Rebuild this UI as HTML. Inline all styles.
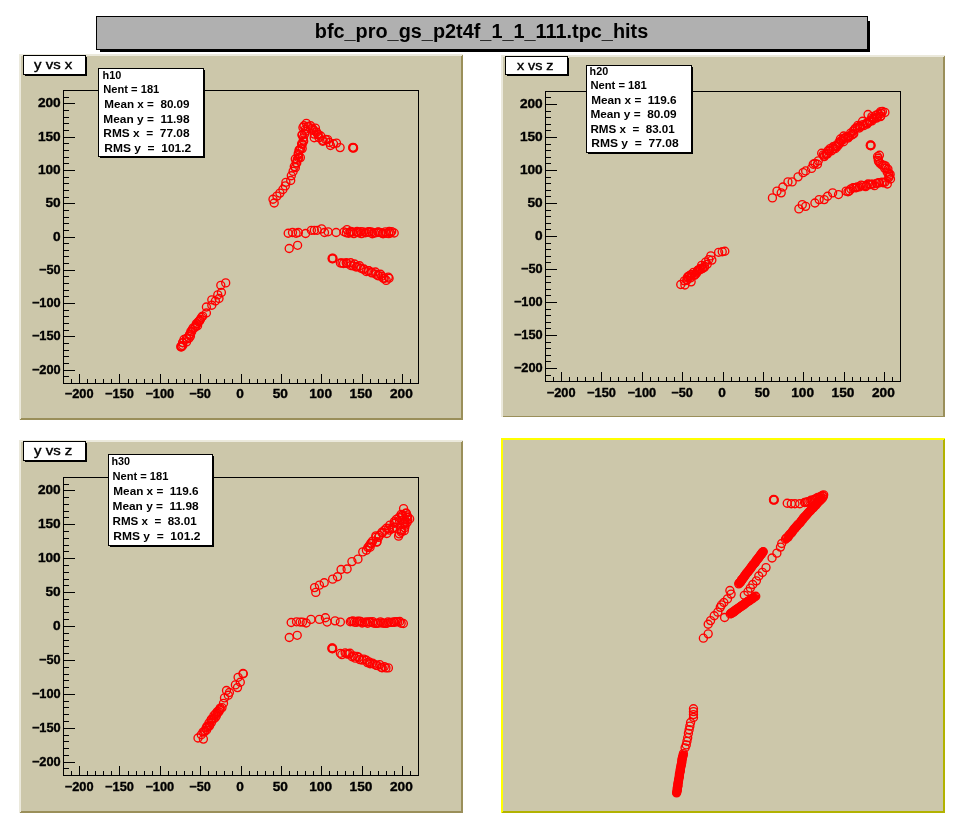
<!DOCTYPE html>
<html lang="en"><head><meta charset="utf-8"><title>bfc_pro_gs_p2t4f_1_1_111.tpc_hits</title>
<style>html,body{margin:0;padding:0;background:#fff;overflow:hidden}svg{display:block;font-family:"Liberation Sans", sans-serif;will-change:transform}.c{shape-rendering:crispEdges}text{fill:#000}</style></head><body>
<svg width="964" height="830" viewBox="0 0 964 830">
<rect width="964" height="830" fill="#fff"/>
<g class="c">
<rect x="100" y="21" width="770" height="31" fill="#000"/>
<rect x="96.5" y="16.5" width="771" height="33" fill="#b0b0b0" stroke="#000" stroke-width="1"/>
</g>
<text x="481.5" y="37.8" font-size="20" font-weight="bold" text-anchor="middle" textLength="333.5" lengthAdjust="spacingAndGlyphs">bfc_pro_gs_p2t4f_1_1_111.tpc_hits</text>
<g id="pad1">
<g class="c">
<rect x="19" y="54" width="444" height="366" fill="#ccc7aa"/>
<path d="M19 54H463L461 56H21V418L19 420Z" fill="#ebe9dc"/>
<path d="M463 420H19L21 418H461V56L463 54Z" fill="#9a8f5a"/>
<rect x="63.5" y="90.5" width="355" height="293" fill="none" stroke="#000" stroke-width="1"/>
<path d="M71.5 383v-4M64 376.5h5M79.5 383v-9M64 370.5h11M87.5 383v-4M64 363.5h5M95.5 383v-4M64 356.5h5M103.5 383v-4M64 350.5h5M111.5 383v-4M64 343.5h5M119.5 383v-9M64 336.5h11M128.5 383v-4M64 330.5h5M136.5 383v-4M64 323.5h5M144.5 383v-4M64 316.5h5M152.5 383v-4M64 310.5h5M160.5 383v-9M64 303.5h11M168.5 383v-4M64 296.5h5M176.5 383v-4M64 290.5h5M184.5 383v-4M64 283.5h5M192.5 383v-4M64 276.5h5M200.5 383v-9M64 270.5h11M208.5 383v-4M64 263.5h5M216.5 383v-4M64 256.5h5M224.5 383v-4M64 250.5h5M232.5 383v-4M64 243.5h5M241.5 383v-9M64 237.5h11M249.5 383v-4M64 230.5h5M257.5 383v-4M64 223.5h5M265.5 383v-4M64 217.5h5M273.5 383v-4M64 210.5h5M281.5 383v-9M64 203.5h11M289.5 383v-4M64 197.5h5M297.5 383v-4M64 190.5h5M305.5 383v-4M64 183.5h5M313.5 383v-4M64 177.5h5M321.5 383v-9M64 170.5h11M329.5 383v-4M64 163.5h5M337.5 383v-4M64 157.5h5M345.5 383v-4M64 150.5h5M353.5 383v-4M64 143.5h5M362.5 383v-9M64 137.5h11M370.5 383v-4M64 130.5h5M378.5 383v-4M64 123.5h5M386.5 383v-4M64 117.5h5M394.5 383v-4M64 110.5h5M402.5 383v-9M64 103.5h11M410.5 383v-4M64 97.5h5" stroke="#000" stroke-width="1" fill="none"/>
<text x="79.14" y="398" font-size="12.5" font-weight="bold" text-anchor="middle" textLength="28.8" lengthAdjust="spacingAndGlyphs" stroke="#000" stroke-width="0.35">−200</text>
<text x="60.7" y="374.1" font-size="12.5" font-weight="bold" text-anchor="end" textLength="28.8" lengthAdjust="spacingAndGlyphs" stroke="#000" stroke-width="0.35">−200</text>
<text x="119.48" y="398" font-size="12.5" font-weight="bold" text-anchor="middle" textLength="28.8" lengthAdjust="spacingAndGlyphs" stroke="#000" stroke-width="0.35">−150</text>
<text x="60.7" y="340.1" font-size="12.5" font-weight="bold" text-anchor="end" textLength="28.8" lengthAdjust="spacingAndGlyphs" stroke="#000" stroke-width="0.35">−150</text>
<text x="159.82" y="398" font-size="12.5" font-weight="bold" text-anchor="middle" textLength="28.8" lengthAdjust="spacingAndGlyphs" stroke="#000" stroke-width="0.35">−100</text>
<text x="60.7" y="307.1" font-size="12.5" font-weight="bold" text-anchor="end" textLength="28.8" lengthAdjust="spacingAndGlyphs" stroke="#000" stroke-width="0.35">−100</text>
<text x="200.16" y="398" font-size="12.5" font-weight="bold" text-anchor="middle" textLength="21.6" lengthAdjust="spacingAndGlyphs" stroke="#000" stroke-width="0.35">−50</text>
<text x="60.7" y="274.1" font-size="12.5" font-weight="bold" text-anchor="end" textLength="21.6" lengthAdjust="spacingAndGlyphs" stroke="#000" stroke-width="0.35">−50</text>
<text x="240" y="398" font-size="12.5" font-weight="bold" text-anchor="middle" textLength="7.6" lengthAdjust="spacingAndGlyphs" stroke="#000" stroke-width="0.35">0</text>
<text x="60.7" y="241.1" font-size="12.5" font-weight="bold" text-anchor="end" textLength="7.6" lengthAdjust="spacingAndGlyphs" stroke="#000" stroke-width="0.35">0</text>
<text x="280.34" y="398" font-size="12.5" font-weight="bold" text-anchor="middle" textLength="15.2" lengthAdjust="spacingAndGlyphs" stroke="#000" stroke-width="0.35">50</text>
<text x="60.7" y="207.1" font-size="12.5" font-weight="bold" text-anchor="end" textLength="15.2" lengthAdjust="spacingAndGlyphs" stroke="#000" stroke-width="0.35">50</text>
<text x="320.68" y="398" font-size="12.5" font-weight="bold" text-anchor="middle" textLength="22.8" lengthAdjust="spacingAndGlyphs" stroke="#000" stroke-width="0.35">100</text>
<text x="60.7" y="174.1" font-size="12.5" font-weight="bold" text-anchor="end" textLength="22.8" lengthAdjust="spacingAndGlyphs" stroke="#000" stroke-width="0.35">100</text>
<text x="361.02" y="398" font-size="12.5" font-weight="bold" text-anchor="middle" textLength="22.8" lengthAdjust="spacingAndGlyphs" stroke="#000" stroke-width="0.35">150</text>
<text x="60.7" y="141.1" font-size="12.5" font-weight="bold" text-anchor="end" textLength="22.8" lengthAdjust="spacingAndGlyphs" stroke="#000" stroke-width="0.35">150</text>
<text x="401.36" y="398" font-size="12.5" font-weight="bold" text-anchor="middle" textLength="22.8" lengthAdjust="spacingAndGlyphs" stroke="#000" stroke-width="0.35">200</text>
<text x="60.7" y="107.1" font-size="12.5" font-weight="bold" text-anchor="end" textLength="22.8" lengthAdjust="spacingAndGlyphs" stroke="#000" stroke-width="0.35">200</text>
</g>
<g fill="none" stroke="#f00" stroke-width="1.35" stroke-linecap="round"><circle cx="274.2" cy="203" r="4"/><circle cx="273" cy="199.2" r="4"/><circle cx="276.9" cy="196.1" r="4"/><circle cx="279.9" cy="193.1" r="4"/><circle cx="282.9" cy="189.5" r="4"/><circle cx="285.3" cy="185.9" r="4"/><circle cx="285.9" cy="182.3" r="4"/><circle cx="290.7" cy="180.5" r="4"/><circle cx="291.3" cy="175.7" r="4"/><circle cx="293.1" cy="171.4" r="4"/><circle cx="294.3" cy="166.6" r="4"/><circle cx="296.1" cy="163" r="4"/><circle cx="297.3" cy="159.4" r="4"/><circle cx="300.4" cy="157.6" r="4"/><circle cx="298.6" cy="154.6" r="4"/><circle cx="299.2" cy="149.8" r="4"/><circle cx="302.2" cy="148.6" r="4"/><circle cx="301.6" cy="143.7" r="4"/><circle cx="303.4" cy="140.1" r="4"/><circle cx="302.2" cy="135.3" r="4"/><circle cx="304.6" cy="134.1" r="4"/><circle cx="305.2" cy="129.3" r="4"/><circle cx="304" cy="125.7" r="4"/><circle cx="306.4" cy="123.3" r="4"/><circle cx="308.2" cy="126.9" r="4"/><circle cx="310.6" cy="125.7" r="4"/><circle cx="313" cy="129.3" r="4"/><circle cx="315.4" cy="128.1" r="4"/><circle cx="314.2" cy="134.1" r="4"/><circle cx="317.8" cy="134.1" r="4"/><circle cx="314.2" cy="137.7" r="4"/><circle cx="319" cy="137.7" r="4"/><circle cx="322.7" cy="141.3" r="4"/><circle cx="325.7" cy="139.5" r="4"/><circle cx="329.3" cy="142.5" r="4"/><circle cx="330.5" cy="145.5" r="4"/><circle cx="333.5" cy="143.7" r="4"/><circle cx="336.5" cy="143.1" r="4"/><circle cx="340.1" cy="147.6" r="4"/><circle cx="295.36" cy="167.66" r="4"/><circle cx="296.77" cy="162.99" r="4"/><circle cx="295.29" cy="158.96" r="4"/><circle cx="298.64" cy="157.68" r="4"/><circle cx="298.2" cy="153.59" r="4"/><circle cx="299.19" cy="150.64" r="4"/><circle cx="300.63" cy="148.74" r="4"/><circle cx="302.29" cy="144.37" r="4"/><circle cx="303.66" cy="141.3" r="4"/><circle cx="303.27" cy="137.84" r="4"/><circle cx="302.01" cy="134.7" r="4"/><circle cx="305.66" cy="131.3" r="4"/><circle cx="302.93" cy="127.44" r="4"/><circle cx="307.73" cy="126.43" r="4"/><circle cx="312" cy="128.12" r="4"/><circle cx="313.74" cy="130.49" r="4"/><circle cx="316.64" cy="132.11" r="4"/><circle cx="318.14" cy="134.89" r="4"/><circle cx="320.74" cy="136.04" r="4"/><circle cx="323.14" cy="140.55" r="4"/><circle cx="327.63" cy="139.67" r="4"/><circle cx="353" cy="147.6" r="4" stroke-width="1.9"/><circle cx="353.3" cy="147.9" r="4" stroke-width="1.9"/><circle cx="288.2" cy="233.2" r="4"/><circle cx="292.5" cy="232.5" r="4"/><circle cx="296.1" cy="233.2" r="4"/><circle cx="298.3" cy="232.5" r="4"/><circle cx="305.6" cy="233.5" r="4"/><circle cx="311.4" cy="230.3" r="4"/><circle cx="314.3" cy="230.3" r="4"/><circle cx="317.2" cy="230.3" r="4"/><circle cx="321.6" cy="228.9" r="4"/><circle cx="324.5" cy="232.5" r="4"/><circle cx="328.1" cy="231.8" r="4"/><circle cx="336.1" cy="232.5" r="4"/><circle cx="344.1" cy="231.8" r="4"/><circle cx="347" cy="229.6" r="4"/><circle cx="289.2" cy="248.5" r="4"/><circle cx="297.6" cy="245.3" r="4"/><circle cx="390.5" cy="233" r="4"/><circle cx="394.2" cy="233" r="4"/><circle cx="346.34" cy="232.71" r="4"/><circle cx="348.68" cy="233.27" r="4"/><circle cx="350.46" cy="232.36" r="4"/><circle cx="350.8" cy="231.54" r="4"/><circle cx="352.5" cy="232.03" r="4"/><circle cx="353.86" cy="233.61" r="4"/><circle cx="356.45" cy="232.21" r="4"/><circle cx="357.02" cy="231.44" r="4"/><circle cx="358.83" cy="232.78" r="4"/><circle cx="360.77" cy="231.55" r="4"/><circle cx="361.51" cy="233.68" r="4"/><circle cx="363.12" cy="231.81" r="4"/><circle cx="365.35" cy="232.7" r="4"/><circle cx="367.11" cy="232.14" r="4"/><circle cx="368.74" cy="231.7" r="4"/><circle cx="369.25" cy="232.03" r="4"/><circle cx="371.36" cy="231.95" r="4"/><circle cx="372.32" cy="233.75" r="4"/><circle cx="374.4" cy="233" r="4"/><circle cx="376.26" cy="232.63" r="4"/><circle cx="377.94" cy="232.04" r="4"/><circle cx="378.82" cy="232.24" r="4"/><circle cx="380.55" cy="232.68" r="4"/><circle cx="382.44" cy="233.2" r="4"/><circle cx="383.08" cy="233.72" r="4"/><circle cx="385.44" cy="231.82" r="4"/><circle cx="386.31" cy="233.37" r="4"/><circle cx="388.65" cy="233.62" r="4"/><circle cx="389.19" cy="231.48" r="4"/><circle cx="391.7" cy="231.55" r="4"/><circle cx="332.4" cy="258.6" r="4" stroke-width="1.9"/><circle cx="332.7" cy="258.4" r="4" stroke-width="1.9"/><circle cx="340.4" cy="263" r="4"/><circle cx="389.1" cy="278.3" r="4"/><circle cx="386.2" cy="280.4" r="4"/><circle cx="341.98" cy="262.89" r="4"/><circle cx="343.54" cy="263.49" r="4"/><circle cx="346.24" cy="262.79" r="4"/><circle cx="347.09" cy="263.48" r="4"/><circle cx="350.65" cy="262.71" r="4"/><circle cx="350.82" cy="265.51" r="4"/><circle cx="353.13" cy="265.82" r="4"/><circle cx="354.52" cy="264.02" r="4"/><circle cx="356.13" cy="267.04" r="4"/><circle cx="357.24" cy="266.36" r="4"/><circle cx="359.57" cy="265.7" r="4"/><circle cx="360.85" cy="268.29" r="4"/><circle cx="363.26" cy="269.3" r="4"/><circle cx="363.97" cy="269" r="4"/><circle cx="366.25" cy="271.47" r="4"/><circle cx="368.34" cy="270.65" r="4"/><circle cx="368.7" cy="270.67" r="4"/><circle cx="371.55" cy="272.13" r="4"/><circle cx="371.78" cy="272.86" r="4"/><circle cx="375.44" cy="272.01" r="4"/><circle cx="375.75" cy="274.25" r="4"/><circle cx="377.77" cy="275.34" r="4"/><circle cx="378.64" cy="275.88" r="4"/><circle cx="380.53" cy="274.28" r="4"/><circle cx="381.87" cy="276.25" r="4"/><circle cx="383.21" cy="278.17" r="4"/><circle cx="384.27" cy="278.37" r="4"/><circle cx="388.3" cy="277.14" r="4"/><circle cx="225.7" cy="282.9" r="4"/><circle cx="220.8" cy="285.3" r="4"/><circle cx="221.4" cy="292.5" r="4"/><circle cx="217.8" cy="294.9" r="4"/><circle cx="219" cy="298.5" r="4"/><circle cx="215.4" cy="301" r="4"/><circle cx="211.8" cy="299.8" r="4"/><circle cx="211.8" cy="305.2" r="4"/><circle cx="206.4" cy="307" r="4"/><circle cx="206.4" cy="313" r="4"/><circle cx="202.67" cy="316.18" r="4"/><circle cx="201.6" cy="317.28" r="4"/><circle cx="200.35" cy="319.24" r="4"/><circle cx="199.88" cy="320.23" r="4"/><circle cx="199.56" cy="321.02" r="4"/><circle cx="198.49" cy="321.57" r="4"/><circle cx="197.14" cy="323.8" r="4"/><circle cx="196.29" cy="323.71" r="4"/><circle cx="197.57" cy="325.69" r="4"/><circle cx="195.72" cy="326.41" r="4"/><circle cx="194.89" cy="327.53" r="4"/><circle cx="193.22" cy="327.84" r="4"/><circle cx="192.34" cy="329.56" r="4"/><circle cx="190.82" cy="331.47" r="4"/><circle cx="191.7" cy="331.78" r="4"/><circle cx="190.06" cy="334.15" r="4"/><circle cx="189.48" cy="334.84" r="4"/><circle cx="190.47" cy="336.09" r="4"/><circle cx="189.03" cy="338.15" r="4"/><circle cx="187.19" cy="338.94" r="4"/><circle cx="186.44" cy="338.31" r="4"/><circle cx="184.01" cy="339.47" r="4"/><circle cx="186.52" cy="341.9" r="4"/><circle cx="182.63" cy="342.55" r="4"/><circle cx="182.81" cy="342.8" r="4"/><circle cx="182.8" cy="345.43" r="4"/><circle cx="181.1" cy="346.7" r="4" stroke-width="1.9"/><circle cx="181.4" cy="346.4" r="4" stroke-width="1.9"/></g>
<g class="c">
<rect x="100" y="70" width="105" height="88" fill="#000"/>
<rect x="98.5" y="68.5" width="105" height="88" fill="#fff" stroke="#000" stroke-width="1"/>
<text x="102.5" y="78.5" font-size="11" font-weight="bold" textLength="18.8" lengthAdjust="spacingAndGlyphs">h10</text>
<text x="103.3" y="92.8" font-size="11" font-weight="bold" textLength="56" lengthAdjust="spacingAndGlyphs">Nent = 181</text>
<text x="104.3" y="108" font-size="11" font-weight="bold" textLength="85.3" lengthAdjust="spacingAndGlyphs">Mean x =  80.09</text>
<text x="103.3" y="122.5" font-size="11" font-weight="bold" textLength="86.3" lengthAdjust="spacingAndGlyphs">Mean y =  11.98</text>
<text x="103.3" y="136.6" font-size="11" font-weight="bold" textLength="86.3" lengthAdjust="spacingAndGlyphs">RMS x  =  77.08</text>
<text x="104.3" y="151.5" font-size="11" font-weight="bold" textLength="87" lengthAdjust="spacingAndGlyphs">RMS y  =  101.2</text>
<rect x="25" y="57" width="62" height="19" fill="#000"/>
<rect x="23.5" y="55.5" width="62" height="19" fill="#fff" stroke="#000" stroke-width="1"/>
<text x="53.2" y="68.7" font-size="13.5" font-weight="normal" text-anchor="middle" textLength="38.2" lengthAdjust="spacingAndGlyphs" stroke="#000" stroke-width="0.4">y vs x</text>
</g>
</g>
<g id="pad2">
<g class="c">
<rect x="501" y="55" width="444" height="363" fill="#ccc7aa"/>
<path d="M501 55H945L943 57H503V416L501 418Z" fill="#ebe9dc"/>
<path d="M945 418H501L503 416H943V57L945 55Z" fill="#9a8f5a"/>
<rect x="501" y="417" width="444" height="1" fill="#fff"/>
<rect x="545.5" y="91.5" width="355" height="290" fill="none" stroke="#000" stroke-width="1"/>
<path d="M553.5 381v-4M546 375.5h5M561.5 381v-9M546 368.5h11M569.5 381v-4M546 361.5h5M577.5 381v-4M546 355.5h5M585.5 381v-4M546 348.5h5M593.5 381v-4M546 342.5h5M601.5 381v-9M546 335.5h11M610.5 381v-4M546 328.5h5M618.5 381v-4M546 322.5h5M626.5 381v-4M546 315.5h5M634.5 381v-4M546 309.5h5M642.5 381v-9M546 302.5h11M650.5 381v-4M546 295.5h5M658.5 381v-4M546 289.5h5M666.5 381v-4M546 282.5h5M674.5 381v-4M546 276.5h5M682.5 381v-9M546 269.5h11M690.5 381v-4M546 262.5h5M698.5 381v-4M546 256.5h5M706.5 381v-4M546 249.5h5M714.5 381v-4M546 243.5h5M723.5 381v-9M546 236.5h11M731.5 381v-4M546 229.5h5M739.5 381v-4M546 223.5h5M747.5 381v-4M546 216.5h5M755.5 381v-4M546 210.5h5M763.5 381v-9M546 203.5h11M771.5 381v-4M546 196.5h5M779.5 381v-4M546 190.5h5M787.5 381v-4M546 183.5h5M795.5 381v-4M546 177.5h5M803.5 381v-9M546 170.5h11M811.5 381v-4M546 163.5h5M819.5 381v-4M546 157.5h5M827.5 381v-4M546 150.5h5M835.5 381v-4M546 144.5h5M844.5 381v-9M546 137.5h11M852.5 381v-4M546 130.5h5M860.5 381v-4M546 124.5h5M868.5 381v-4M546 117.5h5M876.5 381v-4M546 111.5h5M884.5 381v-9M546 104.5h11M892.5 381v-4M546 97.5h5" stroke="#000" stroke-width="1" fill="none"/>
<text x="561.14" y="397" font-size="12.5" font-weight="bold" text-anchor="middle" textLength="28.8" lengthAdjust="spacingAndGlyphs" stroke="#000" stroke-width="0.35">−200</text>
<text x="542.7" y="372.1" font-size="12.5" font-weight="bold" text-anchor="end" textLength="28.8" lengthAdjust="spacingAndGlyphs" stroke="#000" stroke-width="0.35">−200</text>
<text x="601.48" y="397" font-size="12.5" font-weight="bold" text-anchor="middle" textLength="28.8" lengthAdjust="spacingAndGlyphs" stroke="#000" stroke-width="0.35">−150</text>
<text x="542.7" y="339.1" font-size="12.5" font-weight="bold" text-anchor="end" textLength="28.8" lengthAdjust="spacingAndGlyphs" stroke="#000" stroke-width="0.35">−150</text>
<text x="641.82" y="397" font-size="12.5" font-weight="bold" text-anchor="middle" textLength="28.8" lengthAdjust="spacingAndGlyphs" stroke="#000" stroke-width="0.35">−100</text>
<text x="542.7" y="306.1" font-size="12.5" font-weight="bold" text-anchor="end" textLength="28.8" lengthAdjust="spacingAndGlyphs" stroke="#000" stroke-width="0.35">−100</text>
<text x="682.16" y="397" font-size="12.5" font-weight="bold" text-anchor="middle" textLength="21.6" lengthAdjust="spacingAndGlyphs" stroke="#000" stroke-width="0.35">−50</text>
<text x="542.7" y="273.1" font-size="12.5" font-weight="bold" text-anchor="end" textLength="21.6" lengthAdjust="spacingAndGlyphs" stroke="#000" stroke-width="0.35">−50</text>
<text x="722" y="397" font-size="12.5" font-weight="bold" text-anchor="middle" textLength="7.6" lengthAdjust="spacingAndGlyphs" stroke="#000" stroke-width="0.35">0</text>
<text x="542.7" y="240.1" font-size="12.5" font-weight="bold" text-anchor="end" textLength="7.6" lengthAdjust="spacingAndGlyphs" stroke="#000" stroke-width="0.35">0</text>
<text x="762.34" y="397" font-size="12.5" font-weight="bold" text-anchor="middle" textLength="15.2" lengthAdjust="spacingAndGlyphs" stroke="#000" stroke-width="0.35">50</text>
<text x="542.7" y="207.1" font-size="12.5" font-weight="bold" text-anchor="end" textLength="15.2" lengthAdjust="spacingAndGlyphs" stroke="#000" stroke-width="0.35">50</text>
<text x="802.68" y="397" font-size="12.5" font-weight="bold" text-anchor="middle" textLength="22.8" lengthAdjust="spacingAndGlyphs" stroke="#000" stroke-width="0.35">100</text>
<text x="542.7" y="174.1" font-size="12.5" font-weight="bold" text-anchor="end" textLength="22.8" lengthAdjust="spacingAndGlyphs" stroke="#000" stroke-width="0.35">100</text>
<text x="843.02" y="397" font-size="12.5" font-weight="bold" text-anchor="middle" textLength="22.8" lengthAdjust="spacingAndGlyphs" stroke="#000" stroke-width="0.35">150</text>
<text x="542.7" y="141.1" font-size="12.5" font-weight="bold" text-anchor="end" textLength="22.8" lengthAdjust="spacingAndGlyphs" stroke="#000" stroke-width="0.35">150</text>
<text x="883.36" y="397" font-size="12.5" font-weight="bold" text-anchor="middle" textLength="22.8" lengthAdjust="spacingAndGlyphs" stroke="#000" stroke-width="0.35">200</text>
<text x="542.7" y="108.1" font-size="12.5" font-weight="bold" text-anchor="end" textLength="22.8" lengthAdjust="spacingAndGlyphs" stroke="#000" stroke-width="0.35">200</text>
</g>
<g fill="none" stroke="#f00" stroke-width="1.35" stroke-linecap="round"><circle cx="772.43" cy="197.93" r="4"/><circle cx="776.98" cy="191.18" r="4"/><circle cx="781.2" cy="192.87" r="4"/><circle cx="782.88" cy="186.96" r="4"/><circle cx="787.94" cy="181.91" r="4"/><circle cx="792.16" cy="181.91" r="4"/><circle cx="798.06" cy="176.85" r="4"/><circle cx="803.12" cy="172.63" r="4"/><circle cx="805.65" cy="170.94" r="4"/><circle cx="811.55" cy="168.41" r="4"/><circle cx="814.92" cy="163.36" r="4"/><circle cx="818.3" cy="160.83" r="4"/><circle cx="821.67" cy="153.24" r="4"/><circle cx="824.2" cy="156.61" r="4"/><circle cx="817.45" cy="164.2" r="4"/><circle cx="813.24" cy="164.2" r="4"/><circle cx="823.87" cy="156.31" r="4"/><circle cx="823.25" cy="154.87" r="4"/><circle cx="825.95" cy="154.26" r="4"/><circle cx="827.46" cy="153.85" r="4"/><circle cx="826.52" cy="153.44" r="4"/><circle cx="828.13" cy="150.64" r="4"/><circle cx="829.26" cy="150.96" r="4"/><circle cx="831.36" cy="150.82" r="4"/><circle cx="830.03" cy="148.57" r="4"/><circle cx="833.43" cy="148.85" r="4"/><circle cx="833.05" cy="146.72" r="4"/><circle cx="835.12" cy="148.69" r="4"/><circle cx="835.91" cy="146.2" r="4"/><circle cx="835.15" cy="145.95" r="4"/><circle cx="836.87" cy="146.82" r="4"/><circle cx="838.54" cy="144.84" r="4"/><circle cx="838.93" cy="142.33" r="4"/><circle cx="839.07" cy="143.65" r="4"/><circle cx="840.86" cy="140.82" r="4"/><circle cx="840.4" cy="139.02" r="4"/><circle cx="842.81" cy="139.99" r="4"/><circle cx="843.59" cy="141.78" r="4"/><circle cx="843.63" cy="138.47" r="4"/><circle cx="845.42" cy="137.34" r="4"/><circle cx="843.67" cy="136.01" r="4"/><circle cx="848.05" cy="136.9" r="4"/><circle cx="848.15" cy="138.05" r="4"/><circle cx="848.58" cy="136.97" r="4"/><circle cx="849.87" cy="135.76" r="4"/><circle cx="852.01" cy="134.92" r="4"/><circle cx="850.66" cy="133.15" r="4"/><circle cx="853.36" cy="133.72" r="4"/><circle cx="853.75" cy="133.76" r="4"/><circle cx="853.17" cy="130.97" r="4"/><circle cx="855.48" cy="128.23" r="4"/><circle cx="854.81" cy="129.13" r="4"/><circle cx="857.21" cy="127.55" r="4"/><circle cx="859.43" cy="128.02" r="4"/><circle cx="857.94" cy="125.36" r="4"/><circle cx="859.65" cy="125.98" r="4"/><circle cx="860.5" cy="126.44" r="4"/><circle cx="863.71" cy="125.68" r="4"/><circle cx="862.78" cy="124.64" r="4"/><circle cx="862.59" cy="121.28" r="4"/><circle cx="866.98" cy="124.1" r="4"/><circle cx="867.78" cy="123.04" r="4"/><circle cx="867.06" cy="122.64" r="4"/><circle cx="869.2" cy="121.81" r="4"/><circle cx="870.2" cy="120.78" r="4"/><circle cx="871.94" cy="120.84" r="4"/><circle cx="871.93" cy="118.35" r="4"/><circle cx="871.85" cy="116.61" r="4"/><circle cx="873.31" cy="118.97" r="4"/><circle cx="874.28" cy="117.88" r="4"/><circle cx="876.42" cy="118.07" r="4"/><circle cx="877.68" cy="116.79" r="4"/><circle cx="876.08" cy="115.17" r="4"/><circle cx="880.36" cy="116.66" r="4"/><circle cx="878.42" cy="113.97" r="4"/><circle cx="880.86" cy="115.96" r="4"/><circle cx="881.14" cy="113.47" r="4"/><circle cx="882.42" cy="111.5" r="4"/><circle cx="884.91" cy="112.43" r="4"/><circle cx="880.69" cy="111.59" r="4"/><circle cx="868.04" cy="114.45" r="4"/><circle cx="798.9" cy="208.89" r="4"/><circle cx="802.28" cy="204.67" r="4"/><circle cx="805.65" cy="206.36" r="4"/><circle cx="814.92" cy="202.98" r="4"/><circle cx="819.14" cy="199.61" r="4"/><circle cx="824.2" cy="199.61" r="4"/><circle cx="827.57" cy="196.24" r="4"/><circle cx="832.63" cy="192.87" r="4"/><circle cx="838.53" cy="194.55" r="4"/><circle cx="846.12" cy="191.18" r="4"/><circle cx="847.98" cy="191.74" r="4"/><circle cx="849.33" cy="190.95" r="4"/><circle cx="850.89" cy="188.88" r="4"/><circle cx="853.09" cy="187.76" r="4"/><circle cx="854.73" cy="187.67" r="4"/><circle cx="856.15" cy="187.72" r="4"/><circle cx="857.2" cy="186.93" r="4"/><circle cx="859.44" cy="186.91" r="4"/><circle cx="861.2" cy="185.1" r="4"/><circle cx="863.13" cy="185.69" r="4"/><circle cx="865.59" cy="186.66" r="4"/><circle cx="866.16" cy="185.54" r="4"/><circle cx="868.02" cy="183.98" r="4"/><circle cx="869.77" cy="184.57" r="4"/><circle cx="871.05" cy="184.17" r="4"/><circle cx="872.74" cy="184.1" r="4"/><circle cx="874.5" cy="185.66" r="4"/><circle cx="876.51" cy="183.35" r="4"/><circle cx="878.63" cy="182.65" r="4"/><circle cx="879.5" cy="182.73" r="4"/><circle cx="881.94" cy="182.25" r="4"/><circle cx="883.11" cy="182.78" r="4"/><circle cx="884.86" cy="182.13" r="4"/><circle cx="887.3" cy="183.97" r="4"/><circle cx="890.49" cy="178.97" r="4"/><circle cx="888.74" cy="177.6" r="4"/><circle cx="889.23" cy="176.02" r="4"/><circle cx="890.15" cy="174.43" r="4"/><circle cx="888.78" cy="173.31" r="4"/><circle cx="887.2" cy="172.08" r="4"/><circle cx="887.92" cy="169.12" r="4"/><circle cx="886.21" cy="168.08" r="4"/><circle cx="884.61" cy="168.09" r="4"/><circle cx="885.43" cy="165.81" r="4"/><circle cx="883.47" cy="165.08" r="4"/><circle cx="881.86" cy="164.85" r="4"/><circle cx="880.07" cy="163.35" r="4"/><circle cx="878.77" cy="161.71" r="4"/><circle cx="878.28" cy="160.35" r="4"/><circle cx="878.32" cy="158.29" r="4"/><circle cx="877.57" cy="156.65" r="4"/><circle cx="879.41" cy="155.28" r="4"/><circle cx="870.57" cy="145.31" r="4" stroke-width="1.9"/><circle cx="870.74" cy="145.48" r="4" stroke-width="1.9"/><circle cx="724.83" cy="251.27" r="4"/><circle cx="722.24" cy="251.78" r="4"/><circle cx="718.61" cy="252.3" r="4"/><circle cx="710.83" cy="255.93" r="4"/><circle cx="711.87" cy="260.08" r="4"/><circle cx="705.64" cy="262.16" r="4"/><circle cx="684.9" cy="284.98" r="4"/><circle cx="680.75" cy="284.46" r="4"/><circle cx="691.12" cy="281.87" r="4"/><circle cx="684.38" cy="280.83" r="4"/><circle cx="687.02" cy="280.31" r="4"/><circle cx="686.94" cy="279.49" r="4"/><circle cx="687.67" cy="277.14" r="4"/><circle cx="687.91" cy="276.78" r="4"/><circle cx="688.98" cy="275.97" r="4"/><circle cx="690.55" cy="277.85" r="4"/><circle cx="689.5" cy="275.84" r="4"/><circle cx="691.04" cy="276.18" r="4"/><circle cx="691.33" cy="274.38" r="4"/><circle cx="694.25" cy="275.43" r="4"/><circle cx="695.02" cy="274.56" r="4"/><circle cx="693.51" cy="272.39" r="4"/><circle cx="695.25" cy="274.39" r="4"/><circle cx="696.69" cy="272.86" r="4"/><circle cx="697.05" cy="271.91" r="4"/><circle cx="697.5" cy="270.76" r="4"/><circle cx="698.55" cy="270.39" r="4"/><circle cx="698.3" cy="269.83" r="4"/><circle cx="698.96" cy="269.96" r="4"/><circle cx="699.87" cy="269.62" r="4"/><circle cx="700.28" cy="268.54" r="4"/><circle cx="702.16" cy="268.75" r="4"/><circle cx="702.8" cy="267.91" r="4"/><circle cx="704.2" cy="267.46" r="4"/><circle cx="701.64" cy="265.34" r="4"/><circle cx="704.61" cy="266.45" r="4"/><circle cx="708.76" cy="259.56" r="4"/><circle cx="707.2" cy="264.23" r="4"/></g>
<g class="c">
<rect x="588" y="67" width="105" height="87" fill="#000"/>
<rect x="586.5" y="65.5" width="105" height="87" fill="#fff" stroke="#000" stroke-width="1"/>
<text x="589.6" y="75.2" font-size="11" font-weight="bold" textLength="18.6" lengthAdjust="spacingAndGlyphs">h20</text>
<text x="590.4" y="89" font-size="11" font-weight="bold" textLength="56.4" lengthAdjust="spacingAndGlyphs">Nent = 181</text>
<text x="591.2" y="103.9" font-size="11" font-weight="bold" textLength="85.5" lengthAdjust="spacingAndGlyphs">Mean x =  119.6</text>
<text x="590.4" y="117.7" font-size="11" font-weight="bold" textLength="86.3" lengthAdjust="spacingAndGlyphs">Mean y =  80.09</text>
<text x="590.4" y="132.5" font-size="11" font-weight="bold" textLength="84.4" lengthAdjust="spacingAndGlyphs">RMS x  =  83.01</text>
<text x="591.2" y="146.7" font-size="11" font-weight="bold" textLength="87.4" lengthAdjust="spacingAndGlyphs">RMS y  =  77.08</text>
<rect x="507" y="58" width="62" height="18" fill="#000"/>
<rect x="505.5" y="56.5" width="62" height="18" fill="#fff" stroke="#000" stroke-width="1"/>
<text x="535.2" y="69.7" font-size="13.5" font-weight="normal" text-anchor="middle" textLength="36.6" lengthAdjust="spacingAndGlyphs" stroke="#000" stroke-width="0.4">x vs z</text>
</g>
</g>
<g id="pad3">
<g class="c">
<rect x="19" y="440" width="444" height="373" fill="#ccc7aa"/>
<path d="M19 440H463L461 442H21V811L19 813Z" fill="#ebe9dc"/>
<path d="M463 813H19L21 811H461V442L463 440Z" fill="#9a8f5a"/>
<rect x="63.5" y="477.5" width="355" height="298" fill="none" stroke="#000" stroke-width="1"/>
<path d="M71.5 775v-4M64 768.5h5M79.5 775v-9M64 762.5h11M87.5 775v-4M64 755.5h5M95.5 775v-4M64 748.5h5M103.5 775v-4M64 741.5h5M111.5 775v-4M64 735.5h5M119.5 775v-9M64 728.5h11M128.5 775v-4M64 721.5h5M136.5 775v-4M64 714.5h5M144.5 775v-4M64 707.5h5M152.5 775v-4M64 701.5h5M160.5 775v-9M64 694.5h11M168.5 775v-4M64 687.5h5M176.5 775v-4M64 680.5h5M184.5 775v-4M64 674.5h5M192.5 775v-4M64 667.5h5M200.5 775v-9M64 660.5h11M208.5 775v-4M64 653.5h5M216.5 775v-4M64 646.5h5M224.5 775v-4M64 640.5h5M232.5 775v-4M64 633.5h5M241.5 775v-9M64 626.5h11M249.5 775v-4M64 619.5h5M257.5 775v-4M64 612.5h5M265.5 775v-4M64 606.5h5M273.5 775v-4M64 599.5h5M281.5 775v-9M64 592.5h11M289.5 775v-4M64 585.5h5M297.5 775v-4M64 579.5h5M305.5 775v-4M64 572.5h5M313.5 775v-4M64 565.5h5M321.5 775v-9M64 558.5h11M329.5 775v-4M64 551.5h5M337.5 775v-4M64 545.5h5M345.5 775v-4M64 538.5h5M353.5 775v-4M64 531.5h5M362.5 775v-9M64 524.5h11M370.5 775v-4M64 517.5h5M378.5 775v-4M64 511.5h5M386.5 775v-4M64 504.5h5M394.5 775v-4M64 497.5h5M402.5 775v-9M64 490.5h11M410.5 775v-4M64 484.5h5" stroke="#000" stroke-width="1" fill="none"/>
<text x="79.14" y="791" font-size="12.5" font-weight="bold" text-anchor="middle" textLength="28.8" lengthAdjust="spacingAndGlyphs" stroke="#000" stroke-width="0.35">−200</text>
<text x="60.7" y="766.1" font-size="12.5" font-weight="bold" text-anchor="end" textLength="28.8" lengthAdjust="spacingAndGlyphs" stroke="#000" stroke-width="0.35">−200</text>
<text x="119.48" y="791" font-size="12.5" font-weight="bold" text-anchor="middle" textLength="28.8" lengthAdjust="spacingAndGlyphs" stroke="#000" stroke-width="0.35">−150</text>
<text x="60.7" y="732.1" font-size="12.5" font-weight="bold" text-anchor="end" textLength="28.8" lengthAdjust="spacingAndGlyphs" stroke="#000" stroke-width="0.35">−150</text>
<text x="159.82" y="791" font-size="12.5" font-weight="bold" text-anchor="middle" textLength="28.8" lengthAdjust="spacingAndGlyphs" stroke="#000" stroke-width="0.35">−100</text>
<text x="60.7" y="698.1" font-size="12.5" font-weight="bold" text-anchor="end" textLength="28.8" lengthAdjust="spacingAndGlyphs" stroke="#000" stroke-width="0.35">−100</text>
<text x="200.16" y="791" font-size="12.5" font-weight="bold" text-anchor="middle" textLength="21.6" lengthAdjust="spacingAndGlyphs" stroke="#000" stroke-width="0.35">−50</text>
<text x="60.7" y="664.1" font-size="12.5" font-weight="bold" text-anchor="end" textLength="21.6" lengthAdjust="spacingAndGlyphs" stroke="#000" stroke-width="0.35">−50</text>
<text x="240" y="791" font-size="12.5" font-weight="bold" text-anchor="middle" textLength="7.6" lengthAdjust="spacingAndGlyphs" stroke="#000" stroke-width="0.35">0</text>
<text x="60.7" y="630.1" font-size="12.5" font-weight="bold" text-anchor="end" textLength="7.6" lengthAdjust="spacingAndGlyphs" stroke="#000" stroke-width="0.35">0</text>
<text x="280.34" y="791" font-size="12.5" font-weight="bold" text-anchor="middle" textLength="15.2" lengthAdjust="spacingAndGlyphs" stroke="#000" stroke-width="0.35">50</text>
<text x="60.7" y="596.1" font-size="12.5" font-weight="bold" text-anchor="end" textLength="15.2" lengthAdjust="spacingAndGlyphs" stroke="#000" stroke-width="0.35">50</text>
<text x="320.68" y="791" font-size="12.5" font-weight="bold" text-anchor="middle" textLength="22.8" lengthAdjust="spacingAndGlyphs" stroke="#000" stroke-width="0.35">100</text>
<text x="60.7" y="562.1" font-size="12.5" font-weight="bold" text-anchor="end" textLength="22.8" lengthAdjust="spacingAndGlyphs" stroke="#000" stroke-width="0.35">100</text>
<text x="361.02" y="791" font-size="12.5" font-weight="bold" text-anchor="middle" textLength="22.8" lengthAdjust="spacingAndGlyphs" stroke="#000" stroke-width="0.35">150</text>
<text x="60.7" y="528.1" font-size="12.5" font-weight="bold" text-anchor="end" textLength="22.8" lengthAdjust="spacingAndGlyphs" stroke="#000" stroke-width="0.35">150</text>
<text x="401.36" y="791" font-size="12.5" font-weight="bold" text-anchor="middle" textLength="22.8" lengthAdjust="spacingAndGlyphs" stroke="#000" stroke-width="0.35">200</text>
<text x="60.7" y="494.1" font-size="12.5" font-weight="bold" text-anchor="end" textLength="22.8" lengthAdjust="spacingAndGlyphs" stroke="#000" stroke-width="0.35">200</text>
</g>
<g fill="none" stroke="#f00" stroke-width="1.35" stroke-linecap="round"><circle cx="315.78" cy="592.41" r="4"/><circle cx="314.58" cy="587.59" r="4"/><circle cx="319.4" cy="585.18" r="4"/><circle cx="324.22" cy="582.77" r="4"/><circle cx="332.65" cy="579.16" r="4"/><circle cx="337.47" cy="576.75" r="4"/><circle cx="341.08" cy="569.52" r="4"/><circle cx="347.11" cy="569.04" r="4"/><circle cx="351.93" cy="561.57" r="4"/><circle cx="357.95" cy="559.16" r="4"/><circle cx="362.77" cy="551.93" r="4"/><circle cx="366.39" cy="550.24" r="4"/><circle cx="367.84" cy="547.56" r="4"/><circle cx="370.1" cy="547.2" r="4"/><circle cx="369.19" cy="545.83" r="4"/><circle cx="370.77" cy="543.25" r="4"/><circle cx="371.56" cy="543.45" r="4"/><circle cx="372.55" cy="541.13" r="4"/><circle cx="377.06" cy="541.78" r="4"/><circle cx="376.71" cy="542.09" r="4"/><circle cx="376.06" cy="537.06" r="4"/><circle cx="375.82" cy="535.88" r="4"/><circle cx="378.53" cy="537.37" r="4"/><circle cx="379.21" cy="535.53" r="4"/><circle cx="381.91" cy="532.21" r="4"/><circle cx="382.23" cy="533.08" r="4"/><circle cx="386.81" cy="533.45" r="4"/><circle cx="384.59" cy="530.18" r="4"/><circle cx="386.4" cy="528.29" r="4"/><circle cx="388.62" cy="528.49" r="4"/><circle cx="389.49" cy="530.1" r="4"/><circle cx="389.87" cy="525.06" r="4"/><circle cx="392.5" cy="528.6" r="4"/><circle cx="393.76" cy="527.52" r="4"/><circle cx="394.14" cy="523.3" r="4"/><circle cx="394.38" cy="521.65" r="4"/><circle cx="395.71" cy="522.79" r="4"/><circle cx="396.37" cy="519.42" r="4"/><circle cx="399.44" cy="520.4" r="4"/><circle cx="398.9" cy="517.49" r="4"/><circle cx="404.5" cy="519" r="4"/><circle cx="401.72" cy="515.83" r="4"/><circle cx="402.66" cy="514.95" r="4"/><circle cx="401.18" cy="514.32" r="4"/><circle cx="405.63" cy="513.28" r="4"/><circle cx="403.58" cy="508.62" r="4"/><circle cx="406.4" cy="513.24" r="4"/><circle cx="407.25" cy="515.92" r="4"/><circle cx="407.54" cy="517.33" r="4"/><circle cx="409.65" cy="518.88" r="4"/><circle cx="407.68" cy="519.77" r="4"/><circle cx="407.09" cy="522.45" r="4"/><circle cx="404.97" cy="521.96" r="4"/><circle cx="404.64" cy="523.68" r="4"/><circle cx="405.23" cy="525.17" r="4"/><circle cx="404.75" cy="527.71" r="4"/><circle cx="404.3" cy="530.67" r="4"/><circle cx="401.09" cy="530.11" r="4"/><circle cx="401.75" cy="530.9" r="4"/><circle cx="401.24" cy="532.3" r="4"/><circle cx="399.29" cy="533.84" r="4"/><circle cx="398.59" cy="536.18" r="4"/><circle cx="291.2" cy="622.53" r="4"/><circle cx="296.51" cy="621.81" r="4"/><circle cx="300.12" cy="622.05" r="4"/><circle cx="302.53" cy="622.05" r="4"/><circle cx="306.14" cy="623.01" r="4"/><circle cx="310.96" cy="619.4" r="4"/><circle cx="319.4" cy="619.4" r="4"/><circle cx="325.42" cy="617.71" r="4"/><circle cx="327.11" cy="622.05" r="4"/><circle cx="335.06" cy="620.84" r="4"/><circle cx="340.36" cy="622.05" r="4"/><circle cx="289.28" cy="637.47" r="4"/><circle cx="297.23" cy="635.3" r="4"/><circle cx="350.29" cy="621.77" r="4"/><circle cx="351.57" cy="621.31" r="4"/><circle cx="352.99" cy="620.89" r="4"/><circle cx="354.44" cy="622.13" r="4"/><circle cx="356.24" cy="622.4" r="4"/><circle cx="357.52" cy="621.26" r="4"/><circle cx="359.65" cy="621.18" r="4"/><circle cx="360.95" cy="621.66" r="4"/><circle cx="362.17" cy="623.01" r="4"/><circle cx="364.47" cy="622.35" r="4"/><circle cx="366.4" cy="621.98" r="4"/><circle cx="367.65" cy="623.31" r="4"/><circle cx="368.92" cy="621.9" r="4"/><circle cx="370.47" cy="622.03" r="4"/><circle cx="372.7" cy="621.68" r="4"/><circle cx="373.48" cy="623.05" r="4"/><circle cx="375.59" cy="623.43" r="4"/><circle cx="376.99" cy="623.31" r="4"/><circle cx="378.41" cy="623.15" r="4"/><circle cx="380.42" cy="621.87" r="4"/><circle cx="381.9" cy="622.93" r="4"/><circle cx="383.43" cy="623.17" r="4"/><circle cx="385.16" cy="623.41" r="4"/><circle cx="387.05" cy="623.22" r="4"/><circle cx="387.98" cy="621.89" r="4"/><circle cx="390.34" cy="622.34" r="4"/><circle cx="391.85" cy="622.44" r="4"/><circle cx="393.68" cy="622.02" r="4"/><circle cx="394.59" cy="622.24" r="4"/><circle cx="396.2" cy="621.67" r="4"/><circle cx="397.77" cy="621.8" r="4"/><circle cx="399.79" cy="621.53" r="4"/><circle cx="401.16" cy="623.23" r="4"/><circle cx="403.37" cy="623.52" r="4"/><circle cx="332.17" cy="648.31" r="4" stroke-width="1.9"/><circle cx="332.41" cy="648.55" r="4" stroke-width="1.9"/><circle cx="340.37" cy="653.3" r="4"/><circle cx="341.87" cy="654.69" r="4"/><circle cx="345.2" cy="652.94" r="4"/><circle cx="346.8" cy="653.93" r="4"/><circle cx="348.49" cy="654.1" r="4"/><circle cx="349.99" cy="653.22" r="4"/><circle cx="352.07" cy="656.7" r="4"/><circle cx="353.45" cy="655.92" r="4"/><circle cx="355.29" cy="658.15" r="4"/><circle cx="356.96" cy="656.42" r="4"/><circle cx="358.7" cy="657.29" r="4"/><circle cx="359.91" cy="659.59" r="4"/><circle cx="362.37" cy="660.08" r="4"/><circle cx="363.89" cy="659.17" r="4"/><circle cx="366.42" cy="660.29" r="4"/><circle cx="367.45" cy="662.57" r="4"/><circle cx="369.1" cy="661.83" r="4"/><circle cx="370.11" cy="663.77" r="4"/><circle cx="372.56" cy="663.19" r="4"/><circle cx="374.08" cy="664.2" r="4"/><circle cx="376.49" cy="665.36" r="4"/><circle cx="377.16" cy="665.46" r="4"/><circle cx="379.7" cy="664.65" r="4"/><circle cx="381.29" cy="667.51" r="4"/><circle cx="382.29" cy="667.76" r="4"/><circle cx="384.32" cy="666.57" r="4"/><circle cx="385.92" cy="667.91" r="4"/><circle cx="388.38" cy="667.89" r="4"/><circle cx="243" cy="673.5" r="4"/><circle cx="243.3" cy="673.8" r="4"/><circle cx="238.1" cy="677.3" r="4"/><circle cx="240.3" cy="682.2" r="4"/><circle cx="235.4" cy="684.9" r="4"/><circle cx="237.5" cy="687.6" r="4"/><circle cx="229.4" cy="692.5" r="4"/><circle cx="228.3" cy="695.2" r="4"/><circle cx="224.5" cy="697.9" r="4"/><circle cx="223.5" cy="703.3" r="4"/><circle cx="226.5" cy="690.5" r="4"/><circle cx="198" cy="738" r="4"/><circle cx="203.4" cy="739.1" r="4"/><circle cx="201.3" cy="734.8" r="4"/><circle cx="222.01" cy="707.57" r="4"/><circle cx="220.22" cy="708.09" r="4"/><circle cx="220" cy="709.1" r="4"/><circle cx="219.52" cy="710.05" r="4"/><circle cx="218.9" cy="711.72" r="4"/><circle cx="217.37" cy="711.59" r="4"/><circle cx="217.47" cy="713.21" r="4"/><circle cx="215.61" cy="713.78" r="4"/><circle cx="216.31" cy="715.92" r="4"/><circle cx="213.93" cy="715.62" r="4"/><circle cx="215.14" cy="717.59" r="4"/><circle cx="213.52" cy="718.86" r="4"/><circle cx="211.66" cy="719.08" r="4"/><circle cx="211.49" cy="719.51" r="4"/><circle cx="210.97" cy="720.35" r="4"/><circle cx="211.52" cy="722.34" r="4"/><circle cx="208.99" cy="723.01" r="4"/><circle cx="209.72" cy="725.07" r="4"/><circle cx="209.2" cy="726.24" r="4"/><circle cx="206.99" cy="726.42" r="4"/><circle cx="207.36" cy="727.43" r="4"/><circle cx="206.15" cy="728.04" r="4"/><circle cx="206.61" cy="729.89" r="4"/><circle cx="204.88" cy="730.77" r="4"/><circle cx="204.57" cy="731.63" r="4"/><circle cx="203.03" cy="732.07" r="4"/></g>
<g class="c">
<rect x="110" y="456" width="104" height="91" fill="#000"/>
<rect x="108.5" y="454.5" width="104" height="91" fill="#fff" stroke="#000" stroke-width="1"/>
<text x="111.5" y="464.7" font-size="11" font-weight="bold" textLength="18.6" lengthAdjust="spacingAndGlyphs">h30</text>
<text x="112.5" y="479.6" font-size="11" font-weight="bold" textLength="55.9" lengthAdjust="spacingAndGlyphs">Nent = 181</text>
<text x="113.3" y="494.6" font-size="11" font-weight="bold" textLength="85.3" lengthAdjust="spacingAndGlyphs">Mean x =  119.6</text>
<text x="112.5" y="509.5" font-size="11" font-weight="bold" textLength="86.1" lengthAdjust="spacingAndGlyphs">Mean y =  11.98</text>
<text x="112.5" y="525" font-size="11" font-weight="bold" textLength="84.2" lengthAdjust="spacingAndGlyphs">RMS x  =  83.01</text>
<text x="113.3" y="539.8" font-size="11" font-weight="bold" textLength="87.1" lengthAdjust="spacingAndGlyphs">RMS y  =  101.2</text>
<rect x="25" y="443" width="62" height="19" fill="#000"/>
<rect x="23.5" y="441.5" width="62" height="19" fill="#fff" stroke="#000" stroke-width="1"/>
<text x="53.2" y="454.7" font-size="13.5" font-weight="normal" text-anchor="middle" textLength="38.2" lengthAdjust="spacingAndGlyphs" stroke="#000" stroke-width="0.4">y vs z</text>
</g>
</g>
<g id="pad4">
<g class="c">
<rect x="501" y="438" width="444" height="375" fill="#ccc7aa"/>
<path d="M501 438H945L943 440H503V811L501 813Z" fill="#ffff00"/>
<path d="M945 813H501L503 811H943V440L945 438Z" fill="#b2b200"/>
</g>
<g fill="none" stroke="#f00" stroke-width="1.35" stroke-linecap="round"><path d="M821.3 498.2L786 540" stroke-width="6.6"/><path d="M763.2 551.4L739.8 583.2" stroke-width="8.2"/><path d="M753.4 597.2L730.8 612.6" stroke-width="8.2"/><path d="M683.2 755L676.4 793" stroke-width="8"/><circle cx="773.73" cy="499.64" r="4" stroke-width="1.9"/><circle cx="773.98" cy="499.88" r="4" stroke-width="1.9"/><circle cx="787.23" cy="503.25" r="4"/><circle cx="791.33" cy="503.73" r="4"/><circle cx="794.94" cy="503.73" r="4"/><circle cx="799.76" cy="503.73" r="4"/><circle cx="804.58" cy="502.53" r="4"/><circle cx="805.49" cy="502.37" r="4"/><circle cx="806.85" cy="502.09" r="4"/><circle cx="808.01" cy="501.58" r="4"/><circle cx="809.86" cy="501.27" r="4"/><circle cx="810.99" cy="500.22" r="4"/><circle cx="812.62" cy="500.17" r="4"/><circle cx="814.14" cy="499.75" r="4"/><circle cx="815.23" cy="498.82" r="4"/><circle cx="816.6" cy="498.62" r="4"/><circle cx="817.72" cy="497.38" r="4"/><circle cx="819.51" cy="497.49" r="4"/><circle cx="820.6" cy="496.45" r="4"/><circle cx="822.31" cy="495.52" r="4"/><circle cx="823.69" cy="494.85" r="4"/><circle cx="823.34" cy="496.53" r="4"/><circle cx="822.37" cy="498.14" r="4"/><circle cx="821.06" cy="499.18" r="4"/><circle cx="820.17" cy="500.49" r="4"/><circle cx="818.76" cy="501.4" r="4"/><circle cx="817.77" cy="502.65" r="4"/><circle cx="816.81" cy="503.75" r="4"/><circle cx="815.82" cy="505.15" r="4"/><circle cx="814.51" cy="505.94" r="4"/><circle cx="813.5" cy="507.64" r="4"/><circle cx="812.29" cy="508.56" r="4"/><circle cx="811.25" cy="509.62" r="4"/><circle cx="810.19" cy="510.95" r="4"/><circle cx="808.92" cy="512.04" r="4"/><circle cx="807.75" cy="513.37" r="4"/><circle cx="806.77" cy="514.62" r="4"/><circle cx="805.59" cy="515.82" r="4"/><circle cx="804.71" cy="516.87" r="4"/><circle cx="803.29" cy="518.02" r="4"/><circle cx="802.77" cy="519.53" r="4"/><circle cx="801.6" cy="520.53" r="4"/><circle cx="800.69" cy="521.91" r="4"/><circle cx="799.71" cy="523.19" r="4"/><circle cx="798.1" cy="524.3" r="4"/><circle cx="797.36" cy="525.57" r="4"/><circle cx="796.01" cy="526.75" r="4"/><circle cx="795.29" cy="528.08" r="4"/><circle cx="794.03" cy="528.98" r="4"/><circle cx="793.02" cy="530.51" r="4"/><circle cx="792.21" cy="531.92" r="4"/><circle cx="791.17" cy="533.24" r="4"/><circle cx="789.87" cy="534.27" r="4"/><circle cx="789.01" cy="535.37" r="4"/><circle cx="788.12" cy="537.07" r="4"/><circle cx="786.56" cy="537.84" r="4"/><circle cx="785.49" cy="539.15" r="4"/><circle cx="780.48" cy="547.11" r="4"/><circle cx="776.87" cy="553.13" r="4"/><circle cx="772.05" cy="557.95" r="4"/><circle cx="766.02" cy="567.59" r="4"/><circle cx="762.41" cy="572.41" r="4"/><circle cx="758.8" cy="576.02" r="4"/><circle cx="756.39" cy="580.84" r="4"/><circle cx="752.77" cy="584.46" r="4"/><circle cx="750.36" cy="588.07" r="4"/><circle cx="747.95" cy="591.69" r="4"/><circle cx="744.34" cy="595.3" r="4"/><circle cx="781.69" cy="543.49" r="4"/><circle cx="763.26" cy="551.74" r="4"/><circle cx="762.37" cy="552.39" r="4"/><circle cx="761.83" cy="553.82" r="4"/><circle cx="760.85" cy="554.36" r="4"/><circle cx="760.15" cy="555.69" r="4"/><circle cx="759.34" cy="556.58" r="4"/><circle cx="758.91" cy="557.62" r="4"/><circle cx="757.94" cy="558.38" r="4"/><circle cx="757.27" cy="559.66" r="4"/><circle cx="756.32" cy="560.34" r="4"/><circle cx="755.65" cy="561.5" r="4"/><circle cx="755.32" cy="562.54" r="4"/><circle cx="754.31" cy="563.55" r="4"/><circle cx="753.35" cy="564.25" r="4"/><circle cx="752.73" cy="565.13" r="4"/><circle cx="752.03" cy="566.31" r="4"/><circle cx="751.29" cy="567.16" r="4"/><circle cx="750.73" cy="568.34" r="4"/><circle cx="749.8" cy="569.17" r="4"/><circle cx="749.1" cy="570.3" r="4"/><circle cx="748.19" cy="571.3" r="4"/><circle cx="747.77" cy="572.17" r="4"/><circle cx="746.62" cy="573.07" r="4"/><circle cx="745.95" cy="574.03" r="4"/><circle cx="745.36" cy="575.05" r="4"/><circle cx="744.46" cy="576.07" r="4"/><circle cx="743.88" cy="577.15" r="4"/><circle cx="743.2" cy="577.99" r="4"/><circle cx="742.48" cy="579.08" r="4"/><circle cx="741.47" cy="579.91" r="4"/><circle cx="741.14" cy="581.13" r="4"/><circle cx="740.43" cy="582.07" r="4"/><circle cx="739.37" cy="582.93" r="4"/><circle cx="738.72" cy="583.86" r="4"/><circle cx="731.08" cy="594.1" r="4"/><circle cx="727.47" cy="598.92" r="4"/><circle cx="723.86" cy="602.53" r="4"/><circle cx="720.24" cy="607.35" r="4"/><circle cx="717.83" cy="612.17" r="4"/><circle cx="714.22" cy="615.78" r="4"/><circle cx="710.6" cy="620.6" r="4"/><circle cx="708.19" cy="624.22" r="4"/><circle cx="708.19" cy="633.86" r="4"/><circle cx="703.37" cy="638.19" r="4"/><circle cx="729.88" cy="590.48" r="4"/><circle cx="721.45" cy="604.94" r="4"/><circle cx="755.75" cy="596.23" r="4"/><circle cx="754.66" cy="596.69" r="4"/><circle cx="753.74" cy="597.29" r="4"/><circle cx="752.81" cy="598.43" r="4"/><circle cx="751.72" cy="598.69" r="4"/><circle cx="750.59" cy="599.62" r="4"/><circle cx="749.78" cy="600.35" r="4"/><circle cx="748.51" cy="601.09" r="4"/><circle cx="747.53" cy="601.56" r="4"/><circle cx="746.58" cy="602.5" r="4"/><circle cx="745.52" cy="603.04" r="4"/><circle cx="744.75" cy="603.98" r="4"/><circle cx="743.56" cy="604.85" r="4"/><circle cx="742.27" cy="605.3" r="4"/><circle cx="741.71" cy="606.31" r="4"/><circle cx="740.56" cy="606.74" r="4"/><circle cx="739.41" cy="607.6" r="4"/><circle cx="738.45" cy="608.3" r="4"/><circle cx="737.49" cy="609.12" r="4"/><circle cx="736.33" cy="609.56" r="4"/><circle cx="735.37" cy="610.61" r="4"/><circle cx="734.55" cy="611.21" r="4"/><circle cx="733.67" cy="612.18" r="4"/><circle cx="732.19" cy="612.64" r="4"/><circle cx="731.46" cy="613.5" r="4"/><circle cx="730.25" cy="613.94" r="4"/><circle cx="724.58" cy="617.47" r="4"/><circle cx="693.47" cy="708.79" r="4"/><circle cx="693.47" cy="711.68" r="4"/><circle cx="693.47" cy="714.57" r="4"/><circle cx="693.47" cy="717.46" r="4"/><circle cx="690.58" cy="722.51" r="4"/><circle cx="689.86" cy="726.13" r="4"/><circle cx="689.13" cy="729.74" r="4"/><circle cx="688.41" cy="733.35" r="4"/><circle cx="687.69" cy="737.69" r="4"/><circle cx="686.97" cy="741.3" r="4"/><circle cx="686.24" cy="744.91" r="4"/><circle cx="685.09" cy="747.8" r="4"/><circle cx="683.42" cy="753.59" r="4"/><circle cx="683.14" cy="755.19" r="4"/><circle cx="682.68" cy="756.81" r="4"/><circle cx="682.27" cy="758.23" r="4"/><circle cx="681.96" cy="759.81" r="4"/><circle cx="681.8" cy="761.65" r="4"/><circle cx="681.63" cy="763.17" r="4"/><circle cx="681.28" cy="764.56" r="4"/><circle cx="681.03" cy="766.09" r="4"/><circle cx="680.57" cy="767.88" r="4"/><circle cx="680.25" cy="769.48" r="4"/><circle cx="680.28" cy="770.8" r="4"/><circle cx="679.93" cy="772.52" r="4"/><circle cx="679.4" cy="774.13" r="4"/><circle cx="679.42" cy="775.64" r="4"/><circle cx="679.23" cy="777.1" r="4"/><circle cx="678.88" cy="778.76" r="4"/><circle cx="678.5" cy="780.22" r="4"/><circle cx="678.46" cy="781.84" r="4"/><circle cx="677.83" cy="783.45" r="4"/><circle cx="678.04" cy="785.16" r="4"/><circle cx="677.77" cy="786.58" r="4"/><circle cx="677.16" cy="788.36" r="4"/><circle cx="677.38" cy="789.79" r="4"/><circle cx="677" cy="791.35" r="4"/><circle cx="676.63" cy="792.84" r="4"/></g>
</g>
</svg></body></html>
